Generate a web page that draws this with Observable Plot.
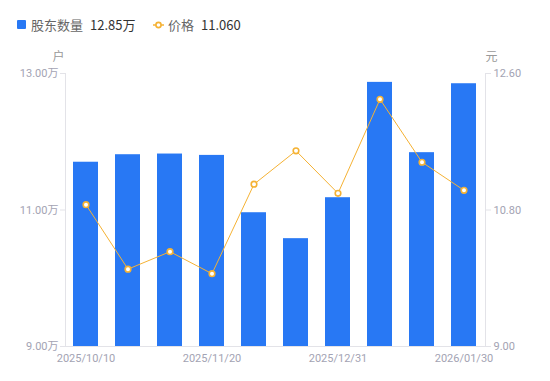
<!DOCTYPE html>
<html>
<head>
<meta charset="utf-8">
<script src="https://cdn.jsdelivr.net/npm/d3@7"></script>
<script src="https://cdn.jsdelivr.net/npm/@observablehq/plot@0.6"></script>
<style>
  body { margin: 0; background: #fff; font-family: "Noto Sans CJK SC", "Noto Sans", sans-serif; }
  #legend { height: 46px; position: relative; font-size: 13px; }
  .item { position: absolute; top: 15px; display: flex; align-items: center; }
  .lab { color: #666; margin-right: 7px; }
  .val { color: #333; }
  #chart { position: relative; }
</style>
</head>
<body>
<div id="legend">
  <div class="item" style="left:17px;">
    <span style="display:inline-block;width:9px;height:9px;background:#2878f4;border-radius:1px;margin-right:5px;"></span>
    <span class="lab">股东数量</span><span class="val">12.85万</span>
  </div>
  <div class="item" style="left:153px;">
    <svg width="11" height="10" style="margin-right:4px;"><line x1="0" y1="5" x2="11" y2="5" stroke="#f5b234" stroke-width="1.5"/><circle cx="5.5" cy="5" r="2.6" fill="#fff" stroke="#f5b234" stroke-width="1.6"/></svg>
    <span class="lab">价格</span><span class="val">11.060</span>
  </div>
</div>
<div id="chart"></div>
<script>
const dates = ["2025/10/10","2025/10/20","2025/10/31","2025/11/20","2025/11/28","2025/12/10","2025/12/31","2026/01/09","2026/01/20","2026/01/30"];
const holders = [11.70, 11.81, 11.82, 11.80, 10.96, 10.58, 11.18, 12.87, 11.84, 12.85];
const prices = [10.87, 10.02, 10.25, 9.96, 11.14, 11.58, 11.02, 12.26, 11.43, 11.06];
const xTicks = ["2025/10/10","2025/11/20","2025/12/31","2026/01/30"];
const leftTicks = [9, 11, 13];
const rightTicks = [9.00, 10.80, 12.60];

const L0 = 9, L1 = 13, R0 = 9, R1 = 12.6;
const toLeft = p => L0 + (p - R0) * (L1 - L0) / (R1 - R0);

const data = dates.map((d, i) => ({date: d, h: holders[i], p: prices[i], pl: toLeft(prices[i])}));

const axisColor = "#e3e3e8";
const textColor = "#a3a3b3";

const plot = Plot.plot({
  width: 550,
  height: 335,
  marginTop: 27,
  marginBottom: 35,
  marginLeft: 65,
  marginRight: 65,
  style: {fontFamily: "Roboto, 'Noto Sans CJK SC', sans-serif", fontSize: "11px", color: textColor, background: "#fff"},
  x: {type: "band", domain: dates, paddingInner: 0.4, paddingOuter: 0.2, axis: null},
  y: {domain: [L0, L1], axis: null},
  marks: [
    Plot.barY(data, {x: "date", y1: L0, y2: "h", fill: "#2878f4"}),
    Plot.frame({anchor: "left", stroke: axisColor}),
    Plot.frame({anchor: "right", stroke: axisColor}),
    Plot.frame({anchor: "bottom", stroke: axisColor}),
    Plot.axisY(leftTicks, {anchor: "left", tickSize: 5, tickPadding: 2, stroke: axisColor, fill: textColor, tickFormat: d => d.toFixed(2) + "万", label: null}),
    Plot.axisY(rightTicks.map(toLeft), {anchor: "right", tickSize: 5, tickPadding: 3, stroke: axisColor, fill: textColor, tickFormat: (d, i) => rightTicks[i].toFixed(2), label: null}),
    Plot.axisX(xTicks, {anchor: "bottom", tickSize: 0, tickPadding: 8, fill: textColor, label: null}),
    Plot.line(data, {x: "date", y: "pl", stroke: "#f5b234", strokeWidth: 1}),
    Plot.dot(data, {x: "date", y: "pl", r: 2.8, fill: "#fff", stroke: "#f5b234", strokeWidth: 1.6}),
    Plot.text(["户"], {frameAnchor: "top-left", textAnchor: "middle", lineAnchor: "middle", dx: -7, dy: -16, fill: "#999", fontSize: 12, text: d => d}),
    Plot.text(["元"], {frameAnchor: "top-right", textAnchor: "middle", lineAnchor: "middle", dx: 6, dy: -16, fill: "#999", fontSize: 12, text: d => d})
  ]
});
document.getElementById("chart").appendChild(plot);
</script>
</body>
</html>
